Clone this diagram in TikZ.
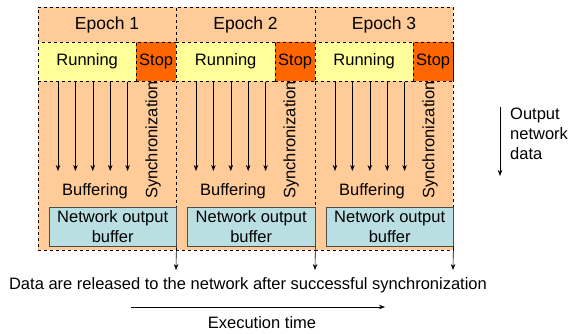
\documentclass[tikz,border=0pt]{standalone}
\usepackage{fontspec}
\setmainfont{Liberation Sans}
\usetikzlibrary{arrows.meta,calc}
\definecolor{peach}{HTML}{FFCC99}
\definecolor{runyel}{HTML}{FFFF99}
\definecolor{stoporg}{HTML}{FF6600}
\definecolor{bufblue}{HTML}{B9DFE3}
\tikzset{
  txt/.style={font=\fontsize{16.5}{20}\selectfont, inner sep=0pt},
  epochbox/.style={draw=black, dashed, fill=peach, anchor=north west, inner sep=0pt, minimum height=243pt},
  runbox/.style={draw=black, dashed, fill=runyel, anchor=north west, inner sep=0pt, minimum height=39pt},
  stopbox/.style={draw=black, dashed, fill=stoporg, anchor=north west, inner sep=0pt, minimum height=39pt, minimum width=40pt, font=\fontsize{16.5}{20}\selectfont},
  bufbox/.style={draw=black!70, fill=bufblue, anchor=north west, inner sep=0pt, minimum height=39pt, align=center, font=\fontsize{16.5}{20}\selectfont},
  arr/.style={-{Stealth[length=6pt,width=4.5pt]}, line width=0.6pt},
}
\begin{document}
\begin{tikzpicture}[x=1pt,y=-1pt]
\useasboundingbox (0,0) rectangle (568,334);
\fill[white] (0,0) rectangle (568,334);
\foreach \i/\L/\W in {1/38/138, 2/176/139, 3/315/138}{
  \node[epochbox, minimum width=\W pt] (ep\i) at (\L,7) {};
}
\foreach \i/\L/\W in {1/38/138, 2/176/139, 3/315/138}{
  \pgfmathsetmacro{\rw}{\W-40}
  \node[txt, font=\fontsize{17.5}{20}\selectfont] (eh\i) at (\L+\W/2,24.5) {Epoch \i};
  \node[runbox, minimum width=\rw pt, font=\fontsize{16.5}{20}\selectfont] (run\i) at (\L,42) {Running};
  \node[stopbox] (stop\i) at (\L+\rw,42) {Stop};
  \foreach \k in {0,...,4}{
    \coordinate (a\i\k) at (\L+20+17.4*\k,82);
    \coordinate (b\i\k) at (\L+20+17.4*\k,171);
    \draw[arr] (a\i\k) -- (b\i\k);
  }
  \node[txt, rotate=90] (sync\i) at (\L+115,140) {Synchronization};
  \node[txt] (bufg\i) at (\L+57,191) {Buffering};
  \pgfmathsetmacro{\bw}{\W-11}
  \node[bufbox, minimum width=\bw pt] (buf\i) at (\L+11,207) {Network output\\buffer};
  \coordinate (rel\i) at (\L+\W,270);
  \draw[arr] (buf\i.south east) -- (rel\i);
}
\node[txt] (data) at (248,285) {Data are released to the network after successful synchronization};
\coordinate (ex1) at (131,307);
\coordinate (ex2) at (385,307);
\draw[arr] (ex1) -- (ex2);
\node[txt] (extime) at (262,323) {Execution time};
\coordinate (on1) at (500,107);
\coordinate (on2) at (500,176);
\draw[arr] (on1) -- (on2);
\node[txt, anchor=north west, align=left] (ond) at (510,108) {Output\\network\\data};
\end{tikzpicture}
\end{document}
